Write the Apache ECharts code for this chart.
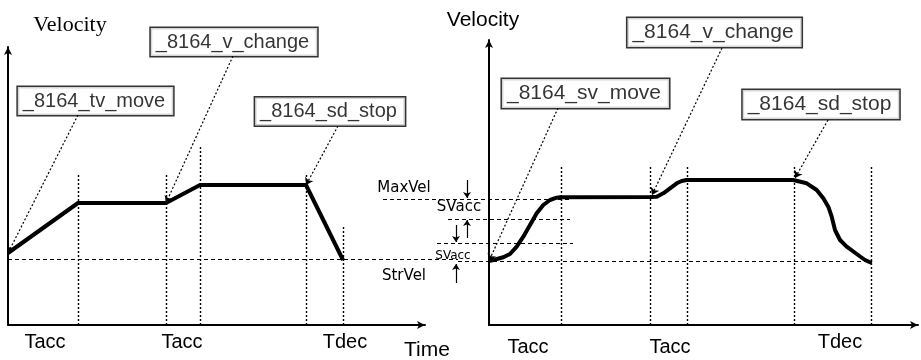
<!DOCTYPE html>
<html>
<head>
<meta charset="utf-8">
<script src="https://cdn.jsdelivr.net/npm/echarts@6/dist/echarts.min.js"></script>
<style>
  html, body { margin: 0; padding: 0; background: #fff; }
  #main { width: 921px; height: 360px; }
</style>
</head>
<body>
<div id="main"></div>
<script>
// left panel: trapezoidal profile (time units, velocity units)
var leftProfile = [[0, 72], [70, 122], [158, 122], [192, 140], [298, 140], [335, 65]];
var leftMarkX = [70, 158, 192, 298, 335];
var leftMarkTop = [152, 152, 180, 152, 98];
var leftTickValues = [37, 174, 337];
var leftTickNames = ['Tacc', 'Tacc', 'Tdec'];
var leftBaseline = [0, 450, 66];
// [label, box x, box y, tip x, tip y, leader start x, leader start y]
var leftCallouts = [
  ['_8164_tv_move', 87.5, 224, 0, 72, 70, 210],
  ['_8164_v_change', 226, 283, 158, 122, 225, 269],
  ['_8164_sd_stop', 322, 213.5, 298, 140, 330, 199]
];

// right panel: S-curve profile
var rightProfile = [
  [0, 64], [4.3, 65], [14.3, 67.7], [21, 71], [27.7, 78.3], [34.3, 88.3], [41, 100],
  [47.7, 111.7], [54.3, 120], [61, 125], [67.7, 127.3], [71, 127.7],
  [162.7, 128], [167.7, 128.3], [174.3, 131.7], [181, 136.7], [187.7, 141.7], [192.7, 144], [197.7, 145],
  [304.3, 145], [317.7, 141.7], [327.7, 135], [334.3, 126.7], [339.3, 118.3], [342.7, 108.3],
  [346, 95], [351, 85], [357.7, 78.3], [367.7, 71], [376, 65], [382.7, 62]
];
var rightMarkX = [72, 161, 198, 305, 382];
var rightMarkTop = 158;
var rightTickValues = [39, 181, 351];
var rightTickNames = ['Tacc', 'Tacc', 'Tdec'];
// [x1, x2, y]
var rightLevels = [[-106, 82, 126], [-41, 81, 106], [-52, 84, 82], [-31, 383, 64]];
// [x, from y, to y]
var rightDimArrows = [[-22, 145, 127], [-22, 87, 105], [-33, 100, 83], [-33, 42, 61]];
var rightCallouts = [
  ['_8164_sv_move', 96.5, 231.5, 0, 64, 69, 217],
  ['_8164_v_change', 225.5, 292.5, 163, 130, 233, 277],
  ['_8164_sd_stop', 332, 220.5, 306, 147, 339, 205]
];

var chart = echarts.init(document.getElementById('main'));

function axisPair(idx, tickValues, tickNames, xmax, ymax, richTacc) {
  return {
    x: {
      type: 'value', gridIndex: idx, min: 0, max: xmax,
      splitLine: { show: false }, axisTick: { show: false },
      axisLine: { lineStyle: { color: '#000', width: 2 }, symbol: ['none', 'arrow'], symbolSize: [6, 8] },
      axisLabel: {
        customValues: tickValues, margin: 7, color: '#000',
        fontFamily: 'Liberation Sans', fontSize: 20,
        formatter: function (v) {
          var n = tickNames[tickValues.indexOf(v)] || '';
          return richTacc && n === 'Tacc' ? '{a|' + n + '}' : n;
        },
        rich: { a: { fontFamily: 'Liberation Sans', fontSize: 20, padding: [5, 0, 0, 0] } }
      }
    },
    y: {
      type: 'value', gridIndex: idx, min: 0, max: ymax,
      splitLine: { show: false }, axisTick: { show: false }, axisLabel: { show: false },
      axisLine: { lineStyle: { color: '#000', width: 2 }, symbol: ['none', 'arrow'], symbolSize: [6, 8] }
    }
  };
}

var la = axisPair(0, leftTickValues, leftTickNames, 417, 278, false);
var ra = axisPair(1, rightTickValues, rightTickNames, 429, 285, true);

function panelSeries(idx, profile, marks, tops, baselines, callouts, boxFont) {
  var out = [];
  out.push({
    type: 'line', xAxisIndex: idx, yAxisIndex: idx, data: profile, symbol: 'none',
    lineStyle: { color: '#000', width: 4, join: 'round' }, silent: true, z: 5
  });
  out.push({
    type: 'lines', coordinateSystem: 'cartesian2d', xAxisIndex: idx, yAxisIndex: idx, clip: false,
    data: marks.map(function (x, i) {
      return { coords: [[x, 0], [x, Array.isArray(tops) ? tops[i] : tops]] };
    }),
    lineStyle: { color: '#000', width: 1.4, type: [2, 2], opacity: 1 }, silent: true
  });
  out.push({
    type: 'lines', coordinateSystem: 'cartesian2d', xAxisIndex: idx, yAxisIndex: idx, clip: false,
    data: baselines.map(function (b) { return { coords: [[b[0], b[2]], [b[1], b[2]]] }; }),
    lineStyle: { color: '#000', width: 1.2, type: [4, 3], opacity: 1 }, silent: true
  });
  out.push({
    type: 'lines', coordinateSystem: 'cartesian2d', xAxisIndex: idx, yAxisIndex: idx, clip: false,
    data: callouts.map(function (c) { return { coords: [[c[5], c[6]], [c[3], c[4]]] }; }),
    symbol: ['none', 'arrow'], symbolSize: 7,
    lineStyle: { color: '#000', width: 1.2, type: [2, 2], opacity: 1 }, silent: true
  });
  out.push({
    type: 'scatter', xAxisIndex: idx, yAxisIndex: idx, clip: false, symbolSize: 0, silent: true, z: 10,
    data: callouts.map(function (c) { return { name: c[0], value: [c[1], c[2]] }; }),
    label: {
      show: true, position: 'inside', formatter: '{b}', color: '#000',
      fontFamily: 'Liberation Sans', fontSize: boxFont, lineHeight: boxFont + 2,
      backgroundColor: '#fff', borderColor: '#000', borderWidth: 1.5, padding: [3, 8, 3, 5]
    }
  });
  return out;
}

var series = panelSeries(0, leftProfile, leftMarkX, leftMarkTop, [leftBaseline], leftCallouts, 20)
  .concat(panelSeries(1, rightProfile, rightMarkX, rightMarkTop, rightLevels, rightCallouts, 21));

series.push({
  type: 'lines', coordinateSystem: 'cartesian2d', xAxisIndex: 1, yAxisIndex: 1, clip: false,
  data: rightDimArrows.map(function (a) { return { coords: [[a[0], a[1]], [a[0], a[2]]] }; }),
  symbol: ['none', 'arrow'], symbolSize: 6,
  lineStyle: { color: '#000', width: 1.2, type: 'solid', opacity: 1 }, silent: true
});

function txt(text, x, y, font) {
  return { type: 'text', x: x, y: y, silent: true,
    style: { text: text, font: font, fill: '#000', align: 'center', verticalAlign: 'middle' } };
}

var option = {
  backgroundColor: '#fff',
  animation: false,
  grid: [
    { left: 8, top: 47, width: 417, height: 278 },
    { left: 489, top: 40, width: 429, height: 285 }
  ],
  xAxis: [la.x, ra.x],
  yAxis: [la.y, ra.y],
  graphic: [
    txt('Velocity', 70, 25, '22px "Liberation Serif"'),
    txt('Velocity', 483, 20, '21px "Liberation Sans"'),
    txt('Time', 427, 350, '21px "Liberation Sans"'),
    txt('MaxVel', 404, 188, '15px "DejaVu Sans"'),
    txt('SVacc', 459, 207, '15px "DejaVu Sans"'),
    txt('SVacc', 453, 256, '12px "DejaVu Sans"'),
    txt('StrVel', 404, 276, '15px "DejaVu Sans"')
  ],
  series: series
};

chart.setOption(option);
</script>
</body>
</html>
